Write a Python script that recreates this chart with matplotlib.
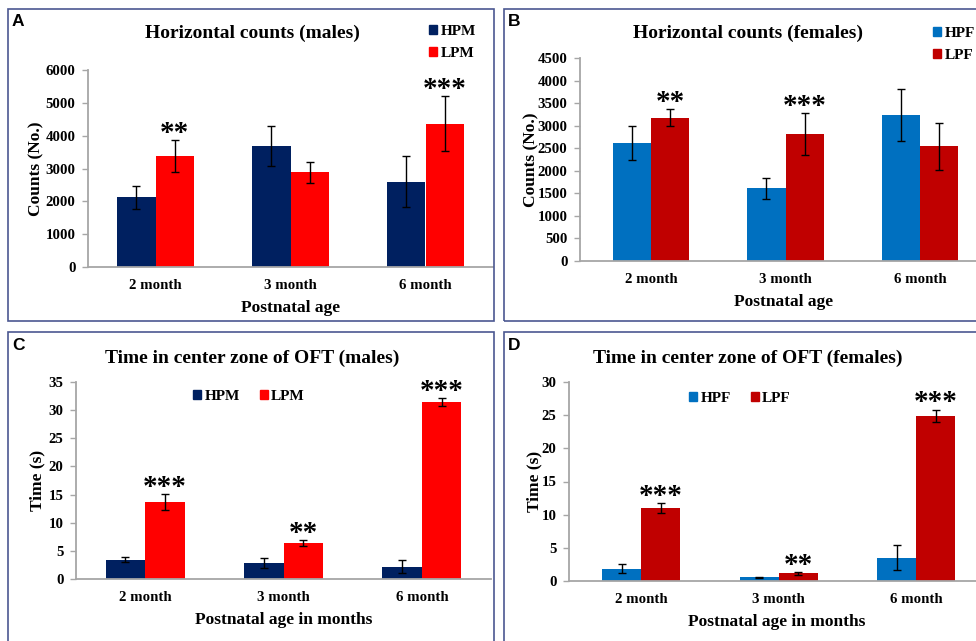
# Figura de cuatro paneles (A-D): conteos horizontales y tiempo en zona central (OFT)
import matplotlib
matplotlib.use("Agg")
import matplotlib.pyplot as plt
from matplotlib.patches import Rectangle, Patch

# --- DATOS ---
meses = ['2 month', '3 month', '6 month']

# Panel A: conteos horizontales (machos)
hpm_conteos = [2120, 3690, 2600]
hpm_conteos_err = [340, 600, 780]
lpm_conteos = [3380, 2880, 4370]
lpm_conteos_err = [500, 320, 830]
estrellas_a = ['**', '', '***']

# Panel B: conteos horizontales (hembras)
hpf_conteos = [2620, 1610, 3240]
hpf_conteos_err = [380, 230, 580]
lpf_conteos = [3180, 2820, 2540]
lpf_conteos_err = [190, 470, 530]
estrellas_b = ['**', '***', '']

# Panel C: tiempo en zona central (machos)
hpm_tiempo = [3.4, 2.8, 2.2]
hpm_tiempo_err = [0.45, 0.85, 1.15]
lpm_tiempo = [13.7, 6.4, 31.4]
lpm_tiempo_err = [1.45, 0.6, 0.75]
estrellas_c = ['***', '**', '***']

# Panel D: tiempo en zona central (hembras)
hpf_tiempo = [1.85, 0.55, 3.5]
hpf_tiempo_err = [0.7, 0.08, 1.9]
lpf_tiempo = [11.05, 1.15, 24.9]
lpf_tiempo_err = [0.75, 0.2, 0.95]
estrellas_d = ['***', '**', '***']

# Colores estilo Excel
AZUL_OSCURO = '#002060'
ROJO = '#FF0000'
AZUL = '#0070C0'
ROJO_OSCURO = '#C00000'
BORDE = '#4B5891'
GRIS_EJE = '#A6A6A6'

ANCHO, ALTO = 976, 641
SERIF = ['Liberation Serif', 'DejaVu Serif']


def ejes_px(fig, izq, arriba, der, abajo):
    # Crea unos ejes a partir de coordenadas en píxeles (origen arriba a la izquierda)
    return fig.add_axes([izq / ANCHO, 1 - abajo / ALTO,
                         (der - izq) / ANCHO, (abajo - arriba) / ALTO])


def dibujar_panel(fig, caja, xlim, ylim, paso, alto_val, alto_err, bajo_val, bajo_err,
                  estrellas, colores, etiquetas, titulo, titulo_xy, ylabel, ylabel_x,
                  xlabel, leyenda, letra, borde):
    izq, arriba, der, abajo = caja
    ax = ejes_px(fig, izq, arriba, der, abajo)
    x = list(range(len(meses)))
    ancho = 0.285
    x_alto = [i - ancho / 2 for i in x]
    x_bajo = [i + ancho / 2 for i in x]

    kw_err = dict(ecolor='black', elinewidth=1.0, capsize=3.2, capthick=1.0)
    ax.bar(x_alto, alto_val, ancho, yerr=alto_err, color=colores[0], label=etiquetas[0],
           error_kw=kw_err, zorder=2)
    ax.bar(x_bajo, bajo_val, ancho, yerr=bajo_err, color=colores[1], label=etiquetas[1],
           error_kw=kw_err, zorder=2)

    # Asteriscos de significancia sobre la barra del grupo bajo
    for xi, v, e, s in zip(x_bajo, bajo_val, bajo_err, estrellas):
        if s:
            ax.annotate(s, xy=(xi, v + e), xytext=(0, -5), textcoords='offset points',
                        ha='center', va='bottom', fontsize=21, fontweight='bold',
                        family=SERIF)

    ax.set_xlim(*xlim)
    ax.set_ylim(*ylim)
    ax.set_yticks(list(range(0, int(ylim[1]) + 1, paso)))
    ax.set_xticks(x)
    ax.set_xticklabels(meses)
    for lab in ax.get_xticklabels() + ax.get_yticklabels():
        lab.set_family(SERIF)
        lab.set_fontweight('bold')
        lab.set_fontsize(10.7)
    ax.tick_params(axis='x', length=0, pad=8.5)
    ax.tick_params(axis='y', length=4, width=1.0, color=GRIS_EJE, pad=5)

    for lado in ['top', 'right']:
        ax.spines[lado].set_visible(False)
    for lado in ['left', 'bottom']:
        ax.spines[lado].set_color(GRIS_EJE)
        ax.spines[lado].set_linewidth(1.3)
    ax.patch.set_alpha(0)

    ax.set_ylabel(ylabel, family=SERIF, fontweight='bold', fontsize=12.5)
    ax.yaxis.set_label_coords((ylabel_x - izq) / (der - izq), 0.5)
    ax.set_xlabel(xlabel, family=SERIF, fontweight='bold', fontsize=12.5)
    ax.xaxis.set_label_coords(0.5, -(33) / (abajo - arriba))

    # Título en píxeles
    fig.text(titulo_xy[0] / ANCHO, 1 - titulo_xy[1] / ALTO, titulo, ha='center',
             va='center', family=SERIF, fontweight='bold', fontsize=14)

    # Leyenda
    (lx, ly), ncol = leyenda
    manijas = [Patch(color=colores[0]), Patch(color=colores[1])]
    ax.legend(manijas, etiquetas, loc='upper left', bbox_to_anchor=(lx / ANCHO, 1 - ly / ALTO),
              bbox_transform=fig.transFigure, ncol=ncol, frameon=False, borderpad=0,
              borderaxespad=0, handlelength=0.55, handleheight=0.55, handletextpad=0.2,
              labelspacing=0.6, columnspacing=1.3,
              prop=dict(family=SERIF, weight='bold', size=11))

    # Letra del panel y marco
    fig.text((borde[0] + 4) / ANCHO, 1 - (borde[1] + 13) / ALTO, letra, ha='left',
             va='center', family=['Liberation Sans', 'DejaVu Sans'], fontweight='bold',
             fontsize=12.5)
    bx0, by0, bx1, by1 = borde
    fig.add_artist(Rectangle((bx0 / ANCHO, 1 - by1 / ALTO), (bx1 - bx0) / ANCHO,
                             (by1 - by0) / ALTO, transform=fig.transFigure, fill=False,
                             edgecolor=BORDE, linewidth=1.2))
    return ax


def main():
    fig = plt.figure(figsize=(ANCHO / 100, ALTO / 100), dpi=100)

    dibujar_panel(fig, (88, 70, 493, 267), (-0.5, 2.5), (0, 6000), 1000,
                  hpm_conteos, hpm_conteos_err, lpm_conteos, lpm_conteos_err, estrellas_a,
                  (AZUL_OSCURO, ROJO), ('HPM', 'LPM'), 'Horizontal counts (males)', (252, 33),
                  'Counts (No.)', 44, 'Postnatal age', ((429, 25), 1), 'A', (8, 9, 494, 321))

    dibujar_panel(fig, (580, 58, 987, 261), (-0.53, 2.5), (0, 4500), 500,
                  hpf_conteos, hpf_conteos_err, lpf_conteos, lpf_conteos_err, estrellas_b,
                  (AZUL, ROJO_OSCURO), ('HPF', 'LPF'), 'Horizontal counts (females)', (748, 33),
                  'Counts (No.)', 539, 'Postnatal age', ((933, 27), 1), 'B', (504, 9, 990, 321))

    dibujar_panel(fig, (76, 382, 491, 579), (-0.5, 2.5), (0, 35), 5,
                  hpm_tiempo, hpm_tiempo_err, lpm_tiempo, lpm_tiempo_err, estrellas_c,
                  (AZUL_OSCURO, ROJO), ('HPM', 'LPM'), 'Time in center zone of OFT (males)',
                  (252, 358), 'Time (s)', 45, 'Postnatal age in months', ((193, 390), 2), 'C',
                  (8, 332, 494, 660))

    dibujar_panel(fig, (569, 382, 985, 581), (-0.525, 2.5), (0, 30), 5,
                  hpf_tiempo, hpf_tiempo_err, lpf_tiempo, lpf_tiempo_err, estrellas_d,
                  (AZUL, ROJO_OSCURO), ('HPF', 'LPF'), 'Time in center zone of OFT (females)',
                  (748, 358), 'Time (s)', 542, 'Postnatal age in months', ((689, 392), 2), 'D',
                  (504, 332, 990, 660))

    fig.savefig('out.png', dpi=100, facecolor='white')


if __name__ == '__main__':
    main()
